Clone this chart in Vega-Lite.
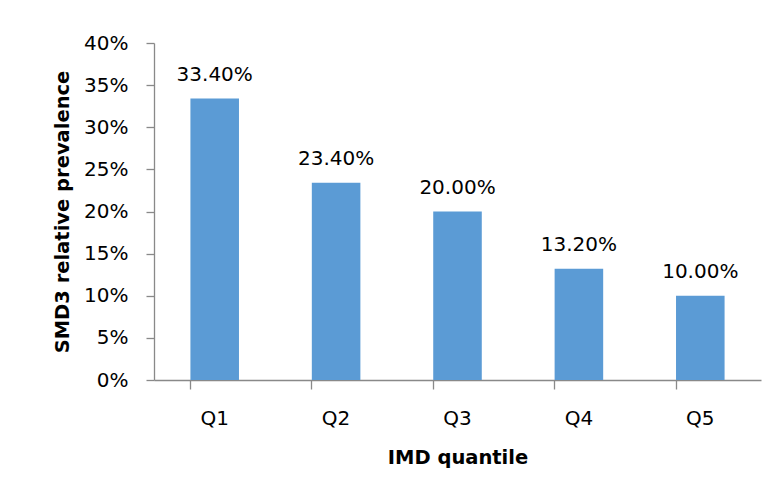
{
  "$schema": "https://vega.github.io/schema/vega-lite/v6.json",
  "width": 607,
  "height": 337,
  "autosize": {"type": "none"},
  "padding": {"left": 154, "top": 43, "right": 18, "bottom": 115},
  "background": "white",
  "config": {
    "view": {"stroke": null},
    "font": "DejaVu Sans"
  },
  "data": {
    "values": [
      {"quantile": "Q1", "prevalence": 0.334},
      {"quantile": "Q2", "prevalence": 0.234},
      {"quantile": "Q3", "prevalence": 0.2},
      {"quantile": "Q4", "prevalence": 0.132},
      {"quantile": "Q5", "prevalence": 0.1}
    ]
  },
  "encoding": {
    "x": {
      "field": "quantile",
      "type": "nominal",
      "sort": null,
      "scale": {"paddingInner": 0.6, "paddingOuter": 0.3},
      "axis": {
        "title": "IMD quantile",
        "titleFont": "DejaVu Sans",
        "titleFontWeight": "bold",
        "titleFontSize": 19.5,
        "titleColor": "black",
        "titlePadding": 20,
        "labelAngle": 0,
        "labelFont": "DejaVu Sans",
        "labelFontSize": 20,
        "labelColor": "black",
        "labelPadding": 19,
        "tickSize": 9,
        "bandPosition": 0,
        "domainColor": "#898989",
        "tickColor": "#898989",
        "domainWidth": 1.3,
        "tickWidth": 1.3
      }
    },
    "y": {
      "field": "prevalence",
      "type": "quantitative",
      "scale": {"domain": [0, 0.4], "nice": false},
      "axis": {
        "title": "SMD3 relative prevalence",
        "titleFont": "DejaVu Sans",
        "titleFontWeight": "bold",
        "titleFontSize": 19.5,
        "titleColor": "black",
        "titlePadding": 11,
        "format": ".0%",
        "values": [0, 0.05, 0.1, 0.15, 0.2, 0.25, 0.3, 0.35, 0.4],
        "labelFont": "DejaVu Sans",
        "labelFontSize": 20,
        "labelColor": "black",
        "labelPadding": 18,
        "tickSize": 8,
        "grid": false,
        "domainColor": "#898989",
        "tickColor": "#898989",
        "domainWidth": 1.3,
        "tickWidth": 1.3
      }
    }
  },
  "layer": [
    {
      "mark": {"type": "bar", "color": "#5B9BD5"}
    },
    {
      "mark": {
        "type": "text",
        "baseline": "alphabetic",
        "dy": -18,
        "fontSize": 20,
        "font": "DejaVu Sans",
        "color": "black"
      },
      "encoding": {
        "text": {"field": "prevalence", "type": "quantitative", "format": ".2%"}
      }
    }
  ]
}
